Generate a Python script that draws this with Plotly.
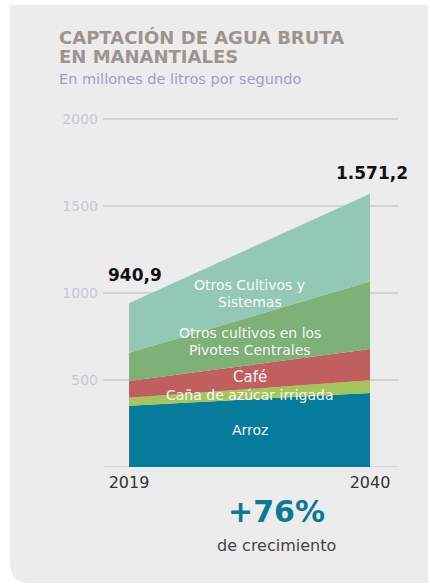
import plotly.graph_objects as go

W, H = 430, 585

years = [2019, 2040]
categories = ["Arroz", "Caña de azúcar irrigada", "Café",
              "Otros cultivos en los<br>Pivotes Centrales", "Otros Cultivos y<br>Sistemas"]
arroz = [352, 426]
cana = [46, 72]
cafe = [96, 180]
pivotes = [163, 388]
otros = [283.9, 505.2]
series = [arroz, cana, cafe, pivotes, otros]
colors = ["#077b9b", "#a3c55b", "#c15f5f", "#7eb177", "#93c8b4"]
# y position (data units) of each label line
label_lines_y = [[211], [416], [518], [772, 672], [1045, 950]]
label_size = [14, 14, 15, 14, 14]
y_ticks = [0, 500, 1000, 1500, 2000]
growth_text = "+76%"

FONT = "DejaVu Sans"

def px(x):
    return x / W

def py(y):
    return 1 - y / H

fig = go.Figure()
for name, vals, col in zip(categories, series, colors):
    fig.add_trace(go.Scatter(x=years, y=vals, stackgroup="one", mode="none",
                             fillcolor=col, name=name.replace("<br>", " "), hoverinfo="skip"))

totals = [sum(s[i] for s in series) for i in range(2)]

def fmt(v):
    s = f"{v:,.1f}"
    return s.replace(",", "X").replace(".", ",").replace("X", ".")

ann = []
for name, ys, sz in zip(categories, label_lines_y, label_size):
    for line, ly in zip(name.split("<br>"), ys):
        ann.append(dict(x=2029.5, y=ly, xref="x", yref="y", text=line, showarrow=False,
                        xanchor="center", yanchor="middle",
                        font=dict(family=FONT, size=sz, color="rgba(255,255,255,0.95)")))
ann.append(dict(x=2019.5, y=1102, xref="x", yref="y", text="<b>" + fmt(totals[0]) + "</b>",
                showarrow=False, xanchor="center", yanchor="middle",
                font=dict(family=FONT, size=17, color="#111")))
ann.append(dict(x=2040.2, y=1690, xref="x", yref="y", text="<b>" + fmt(totals[1]) + "</b>",
                showarrow=False, xanchor="center", yanchor="middle",
                font=dict(family=FONT, size=17, color="#111")))
ann.append(dict(x=px(276), y=py(511), xref="paper", yref="paper", text=f"<b>{growth_text}</b>",
                showarrow=False, xanchor="center", yanchor="middle",
                font=dict(family=FONT, size=30, color="#0c7891")))
ann.append(dict(x=px(276), y=py(545), xref="paper", yref="paper", text="de crecimiento",
                showarrow=False, xanchor="center", yanchor="middle",
                font=dict(family=FONT, size=16, color="#444")))
ann.append(dict(x=px(57), y=py(33), xref="paper", yref="paper",
                text="<b>CAPTACIÓN DE AGUA BRUTA</b>",
                xanchor="left", yanchor="middle", showarrow=False,
                font=dict(family=FONT, size=18, color="#9c958f")))
ann.append(dict(x=px(57), y=py(52), xref="paper", yref="paper",
                text="<b>EN MANANTIALES</b>",
                xanchor="left", yanchor="middle", showarrow=False,
                font=dict(family=FONT, size=18, color="#9c958f")))
ann.append(dict(x=px(57), y=py(75), xref="paper", yref="paper",
                text="En millones de litros por segundo", xanchor="left", yanchor="middle",
                showarrow=False, font=dict(family=FONT, size=14.5, color="#9aa2bb")))

card = (f"M {px(10)},{py(0)} L {px(428)},{py(0)} L {px(428)},{py(583)} "
        f"L {px(30)},{py(583)} Q {px(10)},{py(583)} {px(10)},{py(563)} Z")

fig.update_layout(
    width=W, height=H,
    margin=dict(l=0, r=0, t=0, b=0),
    paper_bgcolor="white", plot_bgcolor="rgba(0,0,0,0)",
    showlegend=False,
    shapes=[dict(type="path", path=card, xref="paper", yref="paper",
                 fillcolor="#ececec", line=dict(width=0), layer="below")],
    annotations=ann,
    xaxis=dict(domain=[px(103), px(398)], range=[2016.73, 2042.44],
               tickvals=years, ticktext=[str(y) for y in years],
               showgrid=False, zeroline=False, showline=False,
               tickfont=dict(family=FONT, size=16, color="#333"), ticks="", ticklabelstandoff=4),
    yaxis=dict(domain=[py(466), py(466 - 2020 * 0.1755)], range=[0, 2020], tickvals=y_ticks,
               ticktext=["", "500", "1000", "1500", "2000"],
               showgrid=True, gridcolor="#d2d2d2", gridwidth=1.5, zeroline=False,
               showline=False, tickfont=dict(family=FONT, size=14, color="#c6c9d4"),
               ticks="", ticklabelstandoff=4),
)
fig.add_shape(type="line", xref="paper", yref="y", x0=px(103), x1=px(398), y0=0, y1=0,
              line=dict(color="#d2d2d2", width=1.5), layer="below")

fig.write_html("out.html", config={"displayModeBar": False},
               post_script="document.body.style.margin='0';document.body.style.overflow='hidden';")
